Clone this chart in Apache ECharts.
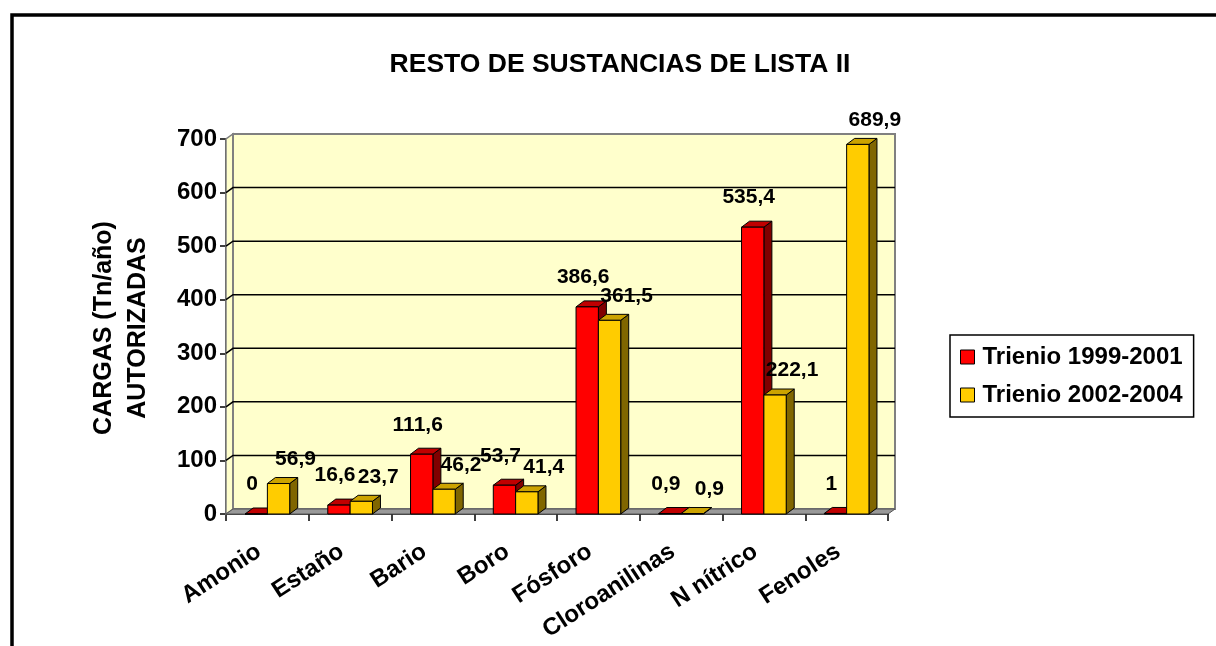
<!DOCTYPE html>
<html>
<head>
<meta charset="utf-8">
<script src="https://cdn.jsdelivr.net/npm/echarts@6/dist/echarts.min.js"></script>
<style>
  html, body { margin: 0; padding: 0; background: #fff; }
  #main { width: 1216px; height: 646px; }
</style>
</head>
<body>
<div id="main"></div>
<script>
var categories = ['Amonio', 'Estaño', 'Bario', 'Boro', 'Fósforo', 'Cloroanilinas', 'N nítrico', 'Fenoles'];
var trienio1 = [0, 16.6, 111.6, 53.7, 386.6, 0.9, 535.4, 1];
var trienio2 = [56.9, 23.7, 46.2, 41.4, 361.5, 0.9, 222.1, 689.9];
var yTicks = [0, 100, 200, 300, 400, 500, 600, 700];
var seriesNames = ['Trienio 1999-2001', 'Trienio 2002-2004'];

var FONT = '"Liberation Sans", Arial, sans-serif';
var WD = 7, WH = 5;   // profundidad de la pared
var BD = 8, BH = 6;   // profundidad de las barras

// colores: frente, techo, lado
var colores = [
  ['#FF0000', '#C00000', '#800000'],
  ['#FFCC00', '#CCA300', '#806600']
];
// desplazamiento de etiquetas por serie (x, separación vertical)
var etiq = [[-4, 13], [17, 8]];

function toPairs(arr) {
  return arr.map(function (v, i) { return [i, v]; });
}

// paredes y suelo 3D
function renderPared(params, api) {
  var cs = params.coordSys;
  var x0 = cs.x, x1 = cs.x + cs.width, yt = cs.y, yb = cs.y + cs.height;
  var hijos = [];
  hijos.push({
    type: 'polygon',
    shape: { points: [[x0, yb], [x0 + WD, yb - WH], [x0 + WD, yt - WH], [x0, yt]] },
    style: { fill: '#FFFFCC', stroke: '#808080', lineWidth: 1.5 }
  });
  hijos.push({
    type: 'rect',
    shape: { x: x0 + WD, y: yt - WH, width: cs.width, height: cs.height },
    style: { fill: '#FFFFCC', stroke: '#808080', lineWidth: 2 }
  });
  yTicks.forEach(function (t) {
    if (t === 0 || t === yTicks[yTicks.length - 1]) return;
    var y = api.coord([0, t])[1];
    hijos.push({
      type: 'polyline',
      shape: { points: [[x0, y], [x0 + WD, y - WH], [x1 + WD, y - WH]] },
      style: { stroke: '#000', lineWidth: 1.5, fill: null }
    });
  });
  hijos.push({
    type: 'polygon',
    shape: { points: [[x0, yb], [x1, yb], [x1 + WD, yb - WH], [x0 + WD, yb - WH]] },
    style: { fill: '#999999', stroke: '#555', lineWidth: 1 }
  });
  return { type: 'group', children: hijos };
}

function makeRender(k) {
  return function (params, api) {
    var idx = api.value(0), v = api.value(1);
    var p = api.coord([idx, v]);
    var base = api.coord([idx, 0]);
    var w = api.size([1, 0])[0] * 0.27;
    var xa = k === 0 ? p[0] - w : p[0];
    var xb = xa + w;
    var yt = p[1], yb = base[1];
    var c = colores[k];
    var linea = { stroke: '#000', lineWidth: 1 };
    var texto = String(v).replace('.', ',');
    return {
      type: 'group',
      children: [
        { type: 'polygon', shape: { points: [[xb, yb], [xb + BD, yb - BH], [xb + BD, yt - BH], [xb, yt]] },
          style: Object.assign({ fill: c[2] }, linea) },
        { type: 'polygon', shape: { points: [[xa, yt], [xb, yt], [xb + BD, yt - BH], [xa + BD, yt - BH]] },
          style: Object.assign({ fill: c[1] }, linea) },
        { type: 'rect', shape: { x: xa, y: yt, width: w, height: yb - yt },
          style: Object.assign({ fill: c[0] }, linea) },
        { type: 'text', z2: 50,
          style: { text: texto, x: (xa + xb) / 2 + etiq[k][0], y: yt - BH - etiq[k][1],
                   align: 'center', verticalAlign: 'bottom',
                   fontFamily: FONT, fontWeight: 'bold', fontSize: 21, fill: '#000' } }
      ]
    };
  };
}

var chart = echarts.init(document.getElementById('main'));
chart.setOption({
  backgroundColor: '#fff',
  animation: false,
  title: {
    text: 'RESTO DE SUSTANCIAS DE LISTA II',
    left: 615, top: 46, textAlign: 'center',
    textStyle: { fontFamily: FONT, fontWeight: 'bold', fontSize: 26.5, color: '#000' }
  },
  legend: {
    orient: 'vertical',
    left: 950, top: 335,
    padding: [10, 11, 10, 10],
    itemGap: 14,
    itemWidth: 14, itemHeight: 14,
    icon: 'rect',
    borderColor: '#000', borderWidth: 1.5,
    backgroundColor: '#fff',
    itemStyle: { borderColor: '#000', borderWidth: 1 },
    textStyle: { fontFamily: FONT, fontWeight: 'bold', fontSize: 24, color: '#000', padding: [0, 0, 0, 3] },
    data: seriesNames
  },
  grid: { left: 226, right: 328, top: 139, bottom: 132 },
  xAxis: {
    type: 'category',
    data: categories,
    axisLine: { lineStyle: { color: '#000', width: 1.5 } },
    axisTick: { show: true, length: 7, lineStyle: { color: '#000', width: 1.5 } },
    axisLabel: {
      interval: 0, rotate: 33, margin: 30,
      padding: [0, 10, 0, 0],
      fontFamily: FONT, fontWeight: 'bold', fontSize: 24, color: '#000'
    },
    splitLine: { show: false }
  },
  yAxis: {
    type: 'value',
    min: yTicks[0], max: yTicks[yTicks.length - 1], interval: 100,
    axisLine: { show: true, lineStyle: { color: '#000', width: 1.5 } },
    axisTick: { show: true, length: 6, lineStyle: { color: '#000', width: 1.5 } },
    axisLabel: { margin: 9, fontFamily: FONT, fontWeight: 'bold', fontSize: 24, color: '#000' },
    splitLine: { show: false }
  },
  graphic: [
    {
      type: 'rect', z: 100,
      shape: { x: 12, y: 15, width: 1400, height: 900 },
      style: { fill: 'none', stroke: '#000', lineWidth: 3.5 }
    },
    {
      type: 'text', x: 121, y: 328, rotation: Math.PI / 2,
      style: {
        text: 'CARGAS (Tn/año)\nAUTORIZADAS',
        align: 'center', verticalAlign: 'middle', lineHeight: 34,
        fontFamily: FONT, fontWeight: 'bold', fontSize: 25, fill: '#000'
      }
    }
  ],
  series: [
    {
      name: 'pared', type: 'custom', z: 1, silent: true,
      renderItem: renderPared, data: [[0, 0]]
    },
    {
      name: seriesNames[0], type: 'custom', z: 3,
      itemStyle: { color: '#FF0000' },
      renderItem: makeRender(0), data: toPairs(trienio1)
    },
    {
      name: seriesNames[1], type: 'custom', z: 3,
      itemStyle: { color: '#FFCC00' },
      renderItem: makeRender(1), data: toPairs(trienio2)
    }
  ]
});
</script>
</body>
</html>
